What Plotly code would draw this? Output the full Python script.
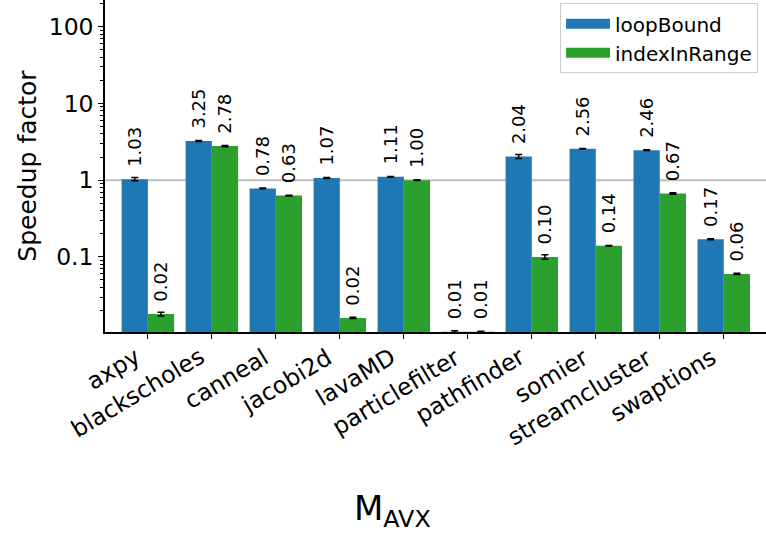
import plotly.graph_objects as go
import math

categories = ["axpy", "blackscholes", "canneal", "jacobi2d", "lavaMD",
              "particlefilter", "pathfinder", "somier", "streamcluster", "swaptions"]
loop_bound = [1.03, 3.25, 0.78, 1.07, 1.11, 0.0106, 2.04, 2.56, 2.46, 0.17]
loop_bound_err = [0.05, 0.05, 0.01, 0.015, 0.01, 0.0003, 0.12, 0.02, 0.03, 0.003]
index_in_range = [0.018, 2.78, 0.63, 0.016, 1.00, 0.0106, 0.10, 0.14, 0.67, 0.06]
index_in_range_err = [0.001, 0.05, 0.008, 0.0003, 0.01, 0.0001, 0.007, 0.001, 0.015, 0.001]
ytick_vals = [0.1, 1, 10, 100]
ytick_text = ["0.1", "1", "10", "100"]

FONT = "DejaVu Sans"
BLUE = "#1f77b4"
GREEN = "#2ca02c"
GAP = "\u00a0\u2009"  # spacing between bar end and its label

fig = go.Figure()
for name, vals, errs, color in [("loopBound", loop_bound, loop_bound_err, BLUE),
                                ("indexInRange", index_in_range, index_in_range_err, GREEN)]:
    fig.add_trace(go.Bar(
        name=name, x=categories, y=vals, legendgroup=name, showlegend=False,
        marker=dict(color=color, line=dict(width=0)),
        error_y=dict(type="data", array=errs, visible=True, color="black", thickness=1.5, width=3.5),
        text=[GAP + f"{v:.2f}" for v in vals], textposition="outside", textangle=-90,
        constraintext="none", cliponaxis=False,
        outsidetextfont=dict(family=FONT, size=18, color="black"),
    ))
    # legend entry drawn as a wide swatch
    fig.add_trace(go.Scatter(
        name=name, x=[None], y=[None], mode="lines", legendgroup=name,
        line=dict(color=color, width=12), hoverinfo="skip",
    ))

fig.add_hline(y=1, line=dict(color="#bfbfbf", width=2), layer="below")

# rotated category labels, right-aligned under each tick (matplotlib style)
annotations = [dict(text=c, x=c, xref="x", y=0, yref="paper", xanchor="right",
                    yanchor="top", yshift=-8, textangle=-31, showarrow=False,
                    font=dict(size=23.5, family=FONT, color="black"))
               for c in categories]
annotations.append(dict(text="M<sub>AVX</sub>", xref="paper", yref="paper",
                        x=(392 - 105) / 661, y=-(510 - 332) / 332, xanchor="center",
                        yanchor="middle", showarrow=False, font=dict(size=34, family=FONT)))

fig.update_layout(
    width=766, height=536,
    margin=dict(l=105, r=0, t=0, b=204),
    paper_bgcolor="white", plot_bgcolor="white",
    barmode="group", bargap=0.18, bargroupgap=0,
    font=dict(family=FONT, size=24, color="black"),
    legend=dict(x=0.988, y=0.99, xanchor="right", yanchor="top",
                bgcolor="white", bordercolor="#cccccc", borderwidth=1,
                font=dict(size=20), tracegroupgap=0, itemwidth=44),
    xaxis=dict(range=[-0.67, 9.66], showline=True, linecolor="black", linewidth=1.5,
               ticks="outside", ticklen=5, tickcolor="black", showticklabels=False,
               showgrid=False, zeroline=False, automargin=False),
    yaxis=dict(type="log", range=[math.log10(0.0105), 2.348], showline=True,
               linecolor="black", linewidth=1.5, ticks="outside", ticklen=5,
               tickcolor="black", tickvals=ytick_vals, ticktext=ytick_text,
               tickfont=dict(size=23.5), showgrid=False, zeroline=False,
               minor=dict(ticks="outside", ticklen=3, tickcolor="black", showgrid=False,
                          dtick="D1"),
               title=dict(text="Speedup factor", font=dict(size=25), standoff=5),
               automargin=False),
    annotations=annotations,
)

fig.write_html("out.html", post_script="document.body.style.margin='0';",
               config={"displayModeBar": False})
